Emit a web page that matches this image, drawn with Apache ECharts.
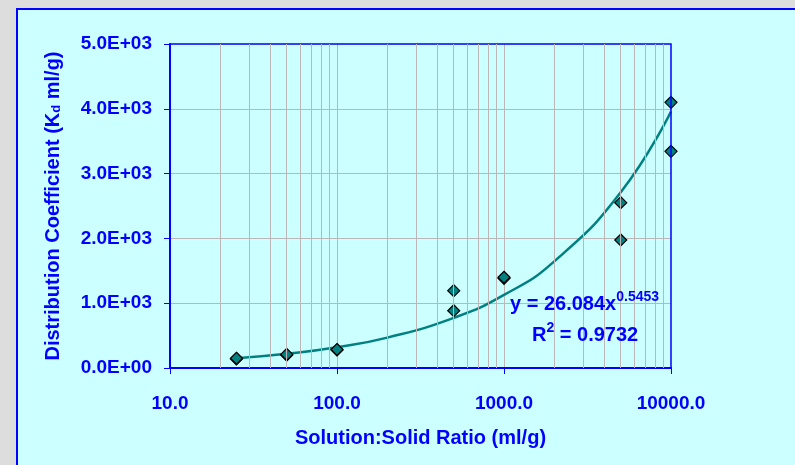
<!DOCTYPE html>
<html>
<head>
<meta charset="utf-8">
<script src="https://cdn.jsdelivr.net/npm/echarts@6/dist/echarts.min.js"></script>
<style>
  html, body { margin: 0; padding: 0; background: #dddddd; }
  #chart { width: 795px; height: 465px; }
</style>
</head>
<body>
<div id="chart"></div>
<script>
// measured points (solution:solid ratio, Kd)
const ratioX = [25, 25, 50, 50, 100, 100, 500, 500, 1000, 1000, 5000, 5000, 10000, 10000];
const kdY = [140, 150, 200, 210, 278, 285, 1193, 884, 1384, 1400, 2551, 1975, 4100, 3344];

// power trendline
const trendX = [25, 50, 100, 200, 500, 1000, 2000, 5000, 10000];
const trendY = [151, 220, 321, 469, 773, 1128, 1646, 2713, 3959];

// minor log grid positions
const minorGridX = [20, 30, 40, 50, 60, 70, 80, 90,
  200, 300, 400, 500, 600, 700, 800, 900,
  2000, 3000, 4000, 5000, 6000, 7000, 8000, 9000];

const BLUE = '#0000ff';
const TEAL = '#008080';
const GRID = '#bdb6b6';
const FONT = '"Liberation Sans", Arial, sans-serif';

function sci(v) {
  // 1000 -> 1.0E+03
  if (v === 0) return '0.0E+00';
  let e = Math.floor(Math.log10(Math.abs(v)));
  let m = v / Math.pow(10, e);
  let es = (e < 0 ? '-' : '+') + String(Math.abs(e)).padStart(2, '0');
  return m.toFixed(1) + 'E' + es;
}

const chart = echarts.init(document.getElementById('chart'));

const option = {
  backgroundColor: '#dddddd',
  animation: false,
  textStyle: { fontFamily: FONT },
  graphic: [
    {
      type: 'rect',
      z: -10,
      shape: { x: 17, y: 9, width: 800, height: 470 },
      style: { fill: '#ccffff', stroke: BLUE, lineWidth: 2 }
    },
    {
      type: 'text',
      left: 510,
      top: 290,
      z: 10,
      style: {
        text: '{b|y = 26.084x}{s|0.5453}',
        rich: {
          b: { fontSize: 20, fontWeight: 'bold', fill: BLUE, fontFamily: FONT, lineHeight: 26 },
          s: { fontSize: 14, fontWeight: 'bold', fill: BLUE, fontFamily: FONT, lineHeight: 26, padding: [0, 0, 14, 0] }
        }
      }
    },
    {
      type: 'text',
      left: 532,
      top: 321,
      z: 10,
      style: {
        text: '{b|R}{s|2}{b| = 0.9732}',
        rich: {
          b: { fontSize: 20, fontWeight: 'bold', fill: BLUE, fontFamily: FONT, lineHeight: 26 },
          s: { fontSize: 14, fontWeight: 'bold', fill: BLUE, fontFamily: FONT, lineHeight: 26, padding: [0, 0, 14, 0] }
        }
      }
    }
  ],
  grid: {
    left: 170,
    right: 124,
    top: 44,
    bottom: 97,
    show: true,
    z: 5,
    backgroundColor: 'transparent',
    borderColor: BLUE,
    borderWidth: 1.5
  },
  xAxis: {
    type: 'log',
    logBase: 10,
    min: 10,
    max: 10000,
    name: 'Solution:Solid Ratio (ml/g)',
    nameLocation: 'middle',
    nameGap: 60,
    nameTextStyle: { color: BLUE, fontSize: 20, fontWeight: 'bold', fontFamily: FONT },
    axisLine: { lineStyle: { color: BLUE, width: 2 } },
    axisTick: { show: true, inside: false, length: 6, lineStyle: { color: BLUE, width: 1 } },
    axisLabel: {
      color: BLUE,
      fontSize: 19,
      fontWeight: 'bold',
      fontFamily: FONT,
      margin: 26,
      formatter: (v) => Number(v).toFixed(1)
    },
    splitLine: { show: true, showMinLine: false, showMaxLine: false, lineStyle: { color: GRID, width: 1 } },
    minorTick: { show: false },
    minorSplitLine: { show: false }
  },
  yAxis: {
    type: 'value',
    min: 0,
    max: 5000,
    interval: 1000,
    name: '{t|Distribution Coefficient (K}{sub|d}{t| ml/g)}',
    nameLocation: 'middle',
    nameGap: 107,
    nameTextStyle: {
      color: BLUE,
      fontSize: 20,
      fontWeight: 'bold',
      fontFamily: FONT,
      rich: {
        t: { color: BLUE, fontSize: 20, fontWeight: 'bold', fontFamily: FONT },
        sub: { color: BLUE, fontSize: 13, fontWeight: 'bold', fontFamily: FONT, padding: [7, 0, 0, 0] }
      }
    },
    axisLine: { show: true, lineStyle: { color: BLUE, width: 2 } },
    axisTick: { show: true, inside: false, length: 6, lineStyle: { color: BLUE, width: 1 } },
    axisLabel: {
      color: BLUE,
      fontSize: 19,
      fontWeight: 'bold',
      fontFamily: FONT,
      margin: 18,
      formatter: (v) => sci(v)
    },
    splitLine: { show: true, showMinLine: false, showMaxLine: false, lineStyle: { color: GRID, width: 1 } }
  },
  series: [
    {
      // vertical minor grid lines of the log axis
      name: 'minor-grid',
      type: 'line',
      data: [],
      z: 1,
      silent: true,
      markLine: {
        silent: true,
        symbol: ['none', 'none'],
        label: { show: false },
        lineStyle: { color: GRID, width: 1, type: 'solid', opacity: 1 },
        emphasis: { disabled: true },
        data: minorGridX.map((v) => ({ xAxis: v }))
      }
    },
    {
      name: 'trend',
      type: 'line',
      data: trendX.map((x, i) => [x, trendY[i]]),
      smooth: true,
      showSymbol: false,
      z: 3,
      lineStyle: { color: TEAL, width: 2.5 }
    },
    {
      name: 'Kd',
      type: 'scatter',
      data: ratioX.map((x, i) => [x, kdY[i]]),
      symbol: 'diamond',
      symbolSize: 12,
      z: 4,
      itemStyle: { color: TEAL, borderColor: '#000000', borderWidth: 1.2, opacity: 1 }
    }
  ]
};

chart.setOption(option);
</script>
</body>
</html>
